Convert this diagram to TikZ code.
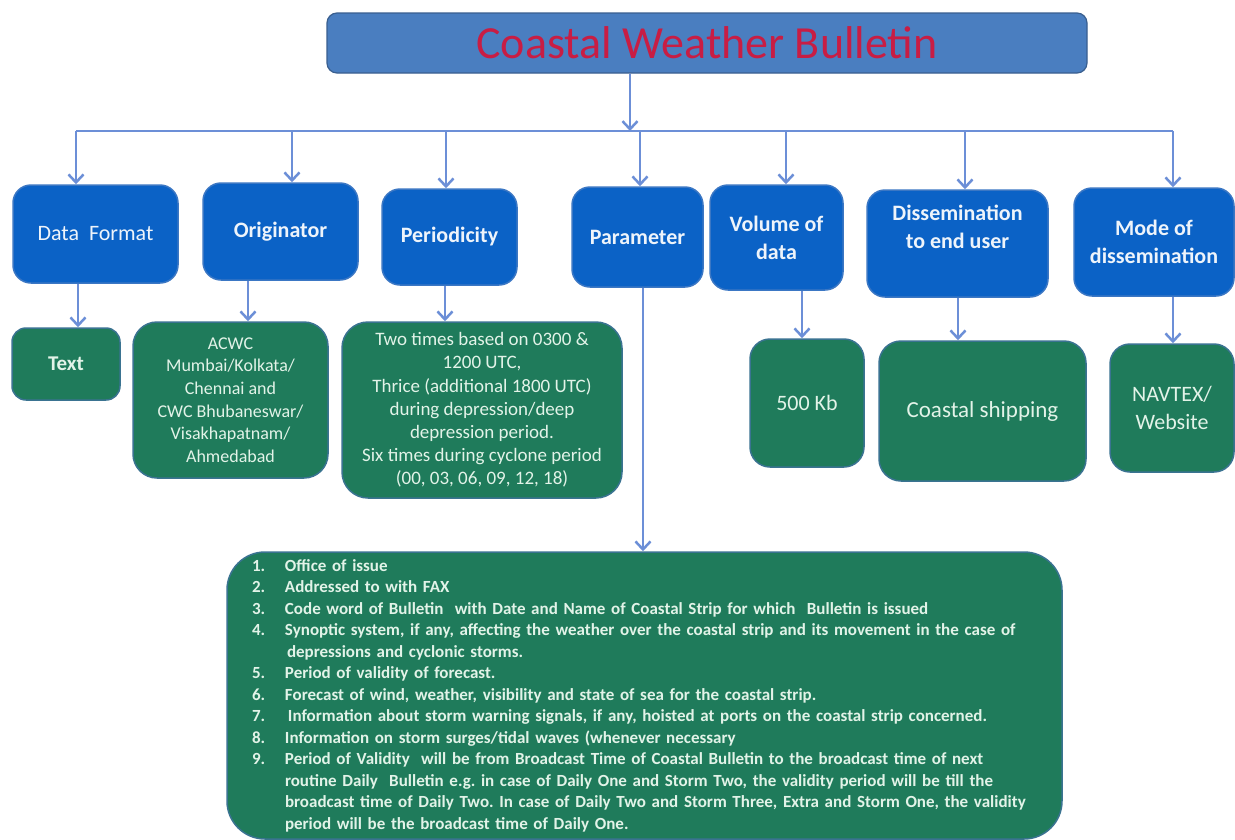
\documentclass[tikz,border=0pt]{standalone}
\usepackage{fontspec}
\setmainfont{Carlito}
\usetikzlibrary{arrows.meta}
\frenchspacing
\definecolor{titlefill}{HTML}{4A7EC0}
\definecolor{titleedge}{HTML}{3A5F8F}
\definecolor{titletext}{HTML}{C81D44}
\definecolor{bluefill}{HTML}{0B62C6}
\definecolor{blueedge}{HTML}{3B77C4}
\definecolor{greenfill}{HTML}{1F7B5B}
\definecolor{greenedge}{HTML}{3A7391}
\definecolor{connc}{HTML}{6C8FD7}
\definecolor{bluetxt}{HTML}{EEF4FB}
\definecolor{greentxt}{HTML}{E2F3E8}
\tikzset{
  titlebox/.style={rectangle, rounded corners=10pt, fill=titlefill, draw=titleedge, line width=1.2pt, inner sep=0pt, text=titletext, font=\fontsize{46}{50}\selectfont},
  bluebox/.style={rectangle, rounded corners=18pt, fill=bluefill, draw=blueedge, line width=1.5pt, inner sep=0pt, align=center, text=bluetxt, font=\fontsize{22}{28}\selectfont\bfseries},
  greenbox/.style={rectangle, rounded corners=20pt, fill=greenfill, draw=greenedge, line width=1.5pt, inner sep=0pt, align=center, text=greentxt},
  conn/.style={draw=connc, line width=2.5pt},
  arr/.style={conn, -{Straight Barb[length=8pt,width=15pt]}}
}
\begin{document}
\begin{tikzpicture}[x=1pt,y=-1pt]
\useasboundingbox[fill=white] (0,0) rectangle (1235,839);
% title
\node[titlebox, minimum width=760pt, minimum height=60pt] (title) at (707,43) {Coastal Weather Bulletin};
% first level
\node[bluebox, minimum width=165pt, minimum height=98pt, font=\fontsize{22}{28}\selectfont] (df) at (95.5,234) {Data~ Format};
\node[bluebox, minimum width=155pt, minimum height=97pt] (orig) at (280.5,231.5) {Originator};
\node[bluebox, minimum width=135pt, minimum height=96pt] (per) at (449.5,237) {Periodicity};
\node[bluebox, minimum width=131pt, minimum height=100pt] (par) at (637.5,237) {Parameter};
\node[bluebox, minimum width=133pt, minimum height=105pt] (vol) at (776.5,237.5) {Volume of\\data};
\node[bluebox, minimum width=181pt, minimum height=107pt, text depth=33pt] (diss) at (957.5,243.5) {Dissemination\\to end user};
\node[bluebox, minimum width=160pt, minimum height=108pt] (mode) at (1154,242) {Mode of\\dissemination};
% second level
\node[greenbox, rounded corners=14pt, minimum width=108pt, minimum height=72pt, font=\fontsize{21}{26}\selectfont\bfseries] (txt) at (66,364) {Text};
\node[greenbox, rounded corners=24pt, minimum width=195pt, minimum height=156pt, font=\fontsize{18}{22.6}\selectfont] (acwc) at (230.5,400) {ACWC\\Mumbai/Kolkata/\\Chennai and\\CWC Bhubaneswar/\\Visakhapatnam/\\Ahmedabad};
\node[greenbox, rounded corners=26pt, minimum width=280pt, minimum height=176pt, font=\fontsize{19}{23.2}\selectfont] (pgr) at (482,410) {Two times based on 0300 \&\\1200 UTC,\\Thrice (additional 1800 UTC)\\during depression/deep\\depression period.\\Six times during cyclone period\\(00, 03, 06, 09, 12, 18)};
\node[greenbox, rounded corners=20pt, minimum width=114pt, minimum height=128pt, font=\fontsize{22}{28}\selectfont] (kb) at (807,403) {500 Kb};
\node[greenbox, rounded corners=22pt, minimum width=207pt, minimum height=140pt, font=\fontsize{23}{28}\selectfont] (ship) at (982.5,411) {Coastal shipping};
\node[greenbox, rounded corners=20pt, minimum width=124pt, minimum height=128pt, font=\fontsize{22}{28}\selectfont] (nav) at (1172,408) {NAVTEX/\\Website};
% parameter list
\node[greenbox, rounded corners=38pt, minimum width=835pt, minimum height=287pt, inner xsep=25pt, text width=785pt, align=left, font=\fontsize{17}{21.5}\selectfont\bfseries] (big) at (644.5,695.5) {%
\makebox[33pt][l]{1.}Office of issue\\
\makebox[33pt][l]{2.}Addressed to with FAX\\
\makebox[33pt][l]{3.}Code word of Bulletin~ with Date and Name of Coastal Strip for which~ Bulletin is issued\\
\makebox[33pt][l]{4.}Synoptic system, if any, affecting the weather over the coastal strip and its movement in the case of\\
\hspace*{35pt}depressions and cyclonic storms.\\
\makebox[33pt][l]{5.}Period of validity of forecast.\\
\makebox[33pt][l]{6.}Forecast of wind, weather, visibility and state of sea for the coastal strip.\\
\makebox[33pt][l]{7.}\hspace*{3pt}Information about storm warning signals, if any, hoisted at ports on the coastal strip concerned.\\
\makebox[33pt][l]{8.}Information on storm surges/tidal waves (whenever necessary\\
\makebox[33pt][l]{9.}Period of Validity~ will be from Broadcast Time of Coastal Bulletin to the broadcast time of next\\
\hspace*{33pt}routine Daily~ Bulletin e.g. in case of Daily One and Storm Two, the validity period will be till the\\
\hspace*{33pt}broadcast time of Daily Two. In case of Daily Two and Storm Three, Extra and Storm One, the validity\\
\hspace*{33pt}period will be the broadcast time of Daily One.};
% bus
\coordinate (tj) at (630,131);
\coordinate (b1) at (76,131);
\coordinate (b2) at (292,131);
\coordinate (b3) at (446,131);
\coordinate (b4) at (640,131);
\coordinate (b5) at (786,131);
\coordinate (b6) at (965,131);
\coordinate (b7) at (1173,131);
\draw[conn] (b1) -- (b7);
\draw[arr] (title.south -| tj) -- (tj);
\draw[arr] (b1) -- (b1 |- df.north);
\draw[arr] (b2) -- (b2 |- orig.north);
\draw[arr] (b3) -- (b3 |- per.north);
\draw[arr] (b4) -- (b4 |- par.north);
\draw[arr] (b5) -- (b5 |- vol.north);
\draw[arr] (b6) -- (b6 |- diss.north);
\draw[arr] (b7) -- (b7 |- mode.north);
% second level connectors
\coordinate (c1) at (78,0);
\coordinate (c2) at (248,0);
\coordinate (c3) at (445,0);
\coordinate (c4) at (643,0);
\coordinate (c5) at (802,0);
\coordinate (c6) at (958,0);
\coordinate (c7) at (1173,0);
\draw[arr] (df.south -| c1) -- (txt.north -| c1);
\draw[arr] (orig.south -| c2) -- (acwc.north -| c2);
\draw[arr] (per.south -| c3) -- (pgr.north -| c3);
\draw[arr] (par.south -| c4) -- (big.north -| c4);
\draw[arr] (vol.south -| c5) -- (kb.north -| c5);
\draw[arr] (diss.south -| c6) -- (ship.north -| c6);
\draw[arr] (mode.south -| c7) -- (nav.north -| c7);
\end{tikzpicture}
\end{document}
